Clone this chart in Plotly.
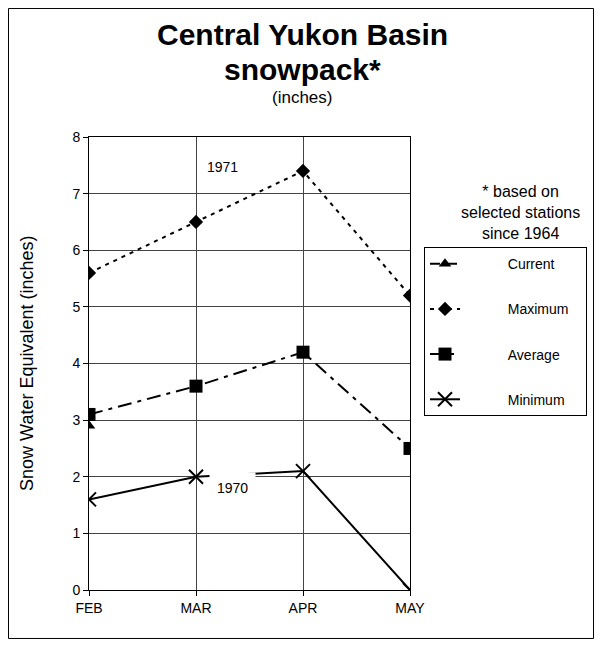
import plotly.graph_objects as go

# Central Yukon Basin snowpack (inches)
meses = ['FEB', 'MAR', 'APR', 'MAY']
actual = [2.9, None, None, None]
maximo = [5.6, 6.5, 7.4, 5.2]
promedio = [3.1, 3.6, 4.2, 2.5]
minimo = [1.6, 2.0, 2.1, 0.0]
y_ticks = [0, 1, 2, 3, 4, 5, 6, 7, 8]

FUENTE = 'Arial, Liberation Sans, sans-serif'
ESP = '\u00a0'


def nombre(txt):
    # relleno para que la leyenda tenga el ancho del original
    return ESP * 11 + txt + ESP * (10 - len(txt))


fig = go.Figure()

fig.add_trace(go.Scatter(
    x=meses, y=actual, name=nombre('Current'), mode='lines+markers', legendgroup='a',
    line=dict(color='black', width=2, dash='10px,7px'),
    marker=dict(symbol='triangle-up', size=11, color='black')
))
fig.add_trace(go.Scatter(
    x=meses, y=maximo, name=nombre('Maximum'), mode='lines+markers', legendgroup='b',
    line=dict(color='black', width=2, dash='4px,5px'),
    marker=dict(symbol='diamond', size=11, color='black')
))
fig.add_trace(go.Scatter(
    x=meses, y=promedio, name=nombre('Average'), mode='lines+markers', legendgroup='c',
    line=dict(color='black', width=2, dash='14px,6px,4px,6px'),
    marker=dict(symbol='square', size=13, color='black')
))
fig.add_trace(go.Scatter(
    x=meses, y=minimo, name=nombre('Minimum'), mode='lines+markers', legendgroup='d',
    line=dict(color='black', width=2),
    marker=dict(symbol='x-thin-open', size=14, line=dict(color='black', width=2))
))

# titulo en tres lineas
fig.add_annotation(text='<b>Central Yukon Basin</b>', xref='paper', yref='paper',
                   x=0.665, y=1.226, xanchor='center', yanchor='middle', showarrow=False,
                   font=dict(size=30, color='black'))
fig.add_annotation(text='<b>snowpack*</b>', xref='paper', yref='paper',
                   x=0.665, y=1.148, xanchor='center', yanchor='middle', showarrow=False,
                   font=dict(size=30, color='black'))
fig.add_annotation(text='(inches)', xref='paper', yref='paper',
                   x=0.665, y=1.088, xanchor='center', yanchor='middle', showarrow=False,
                   font=dict(size=17, color='black'))

# titulo del eje y
fig.add_annotation(text='Snow Water Equivalent (inches)', xref='paper', yref='paper',
                   x=-0.195, y=0.5, xanchor='center', yanchor='middle', textangle=-90,
                   showarrow=False, font=dict(size=18, color='black'))

# notas
fig.add_annotation(text='* based on<br>selected stations<br>since 1964', xref='paper', yref='paper',
                   x=1.343, y=0.834, xanchor='center', yanchor='middle', showarrow=False,
                   font=dict(size=16, color='black'))
fig.add_annotation(text='1971', x=1.243, y=7.47, showarrow=False,
                   font=dict(size=14, color='black'))
fig.add_annotation(text='1970', x=1.34, y=1.8, showarrow=False, bgcolor='white',
                   borderpad=7, font=dict(size=14, color='black'))

# marco exterior
fig.add_shape(type='rect', xref='paper', yref='paper', x0=-0.2508, x1=1.5717,
              y0=-0.107, y1=1.2837, line=dict(color='black', width=1))

fig.update_layout(
    width=594, height=639,
    margin=dict(l=81, r=192, t=129, b=57, autoexpand=False),
    paper_bgcolor='white', plot_bgcolor='white',
    font=dict(family=FUENTE, color='black', size=14),
    showlegend=True,
    legend=dict(x=1.0436, y=0.757, xanchor='left', yanchor='top',
                bgcolor='white', bordercolor='black', borderwidth=1,
                font=dict(size=14), traceorder='grouped', tracegroupgap=24),
    xaxis=dict(range=[0, 3], showgrid=True, gridcolor='#444', gridwidth=1,
               showline=True, linecolor='black', linewidth=1, mirror=True,
               ticks='outside', ticklen=5, tickcolor='black',
               tickfont=dict(size=14), zeroline=False),
    yaxis=dict(range=[0, 8], tickvals=y_ticks, showgrid=True, gridcolor='#444', gridwidth=1,
               showline=True, linecolor='black', linewidth=1, mirror=True,
               ticks='outside', ticklen=5, tickcolor='black',
               tickfont=dict(size=14), zeroline=False),
)

fig.write_html('out.html')
